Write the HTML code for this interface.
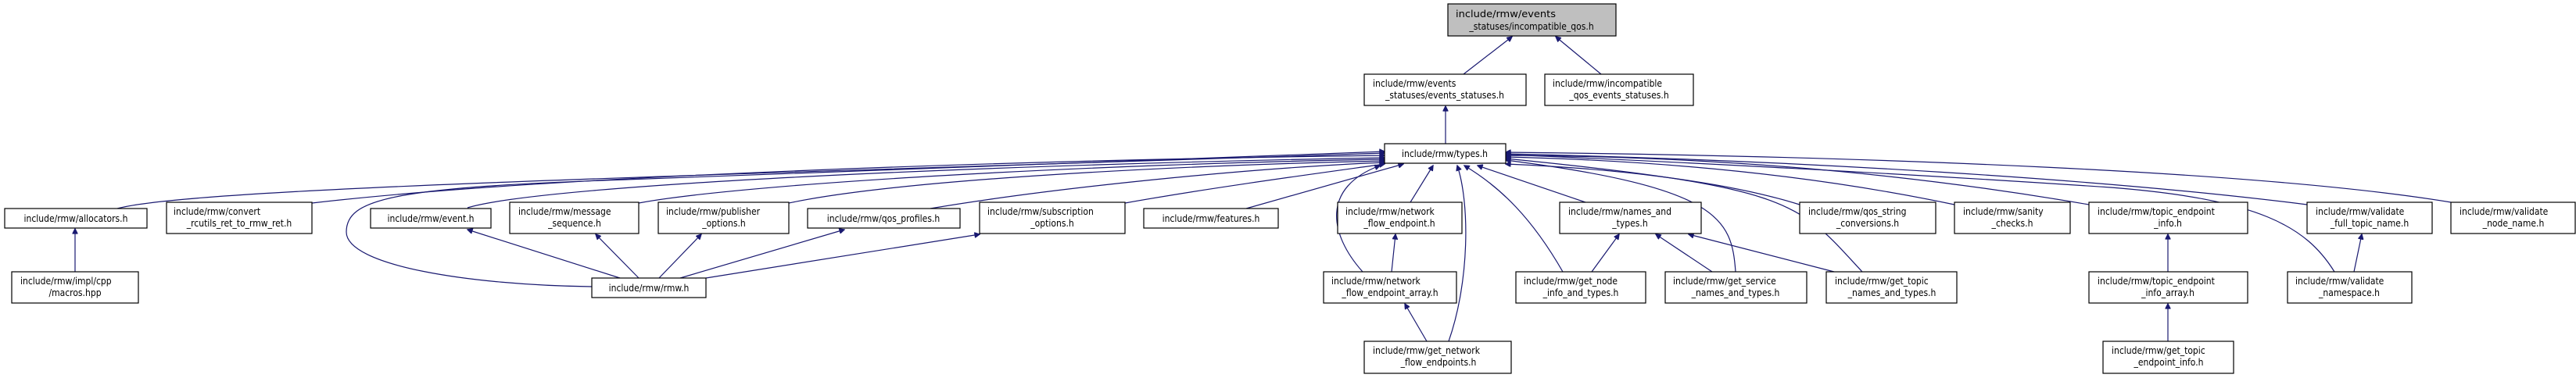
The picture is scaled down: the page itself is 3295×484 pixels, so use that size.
<!DOCTYPE html>
<html><head><meta charset="utf-8"><style>
html,body{margin:0;padding:0;background:#fff;}
svg{display:block;}
text{font-family:"DejaVu Sans Condensed","DejaVu Sans","Liberation Sans",sans-serif;font-size:12px;fill:#000;}
.e{fill:none;stroke:#191970;stroke-width:1.2;marker-end:url(#a);}
rect{fill:#fff;stroke:#000;stroke-width:1.2;}
</style></head><body>
<svg width="3295" height="484" viewBox="0 0 3295 484" xmlns="http://www.w3.org/2000/svg">
<defs><marker id="a" viewBox="0 0 10 10" refX="9" refY="5" markerWidth="8" markerHeight="7" orient="auto" markerUnits="userSpaceOnUse"><path d="M0,0 L10,5 L0,10 z" fill="#191970" stroke="#191970"/></marker></defs>

<!-- edges -->
<path class="e" d="M1872,95 L1934,47"/>
<path class="e" d="M2048,95 L1990,47"/>
<path class="e" d="M1849,184 L1849,136"/>
<!-- to types left -->
<path class="e" d="M150,267 C250,240 900,225 1771,196"/>
<path class="e" d="M399,260 C700,225 1300,205 1771,199"/>
<path class="e" d="M598,266 C700,235 1300,210 1771,202"/>
<path class="e" d="M817,260 C950,235 1400,210 1771,204"/>
<path class="e" d="M1009,260 C1150,230 1500,212 1771,206"/>
<path class="e" d="M1190,267 C1350,240 1600,215 1771,208"/>
<path class="e" d="M1439,260 C1550,240 1700,220 1771,210"/>
<path class="e" d="M757,367 C600,365 443,340 443,297 C443,255 500,240 800,230 C1200,215 1600,200 1771,194"/>
<path class="e" d="M1594,267 L1795,210"/>
<path class="e" d="M1804,259 L1833,212"/>
<path class="e" d="M1743,348 C1700,300 1690,240 1765,212"/>
<path class="e" d="M1853,437 C1880,360 1880,260 1864,212"/>
<path class="e" d="M1999,348 C1960,280 1920,240 1873,212"/>
<path class="e" d="M2028,259 L1890,212"/>
<!-- to types right -->
<path class="e" d="M2220,348 C2215,280 2200,240 1926,205"/>
<path class="e" d="M2382,348 C2300,260 2300,240 1926,203"/>
<path class="e" d="M2302,262 C2200,230 2050,215 1926,210"/>
<path class="e" d="M2500,262 C2300,220 2100,205 1926,201"/>
<path class="e" d="M2672,262 C2400,215 2150,200 1926,199"/>
<path class="e" d="M2951,262 C2700,230 2300,205 1926,197"/>
<path class="e" d="M3135,259 C2900,220 2400,200 1926,195"/>
<path class="e" d="M2986,348 C2950,290 2890,255 2700,240 C2400,220 2100,205 1926,198"/>
<!-- to rmw parents -->
<path class="e" d="M793,356 L598,294"/>
<path class="e" d="M817,356 L762,300"/>
<path class="e" d="M843,356 L897,300"/>
<path class="e" d="M870,356 L1080,294"/>
<path class="e" d="M903,356 L1253,300"/>
<!-- others -->
<path class="e" d="M96,348 L96,293"/>
<path class="e" d="M1780,348 L1785,300"/>
<path class="e" d="M1825,437 L1797,389"/>
<path class="e" d="M2036,348 L2071,300"/>
<path class="e" d="M2190,348 L2118,300"/>
<path class="e" d="M2346,348 L2160,300"/>
<path class="e" d="M2773,348 L2773,300"/>
<path class="e" d="M2773,437 L2773,389"/>
<path class="e" d="M3011,348 L3021,300"/>

<!-- nodes -->
<rect x="1852" y="5" width="215" height="41" style="fill:#bfbfbf"/>
<text x="1862" y="22" textLength="128" lengthAdjust="spacingAndGlyphs">include/rmw/events</text>
<text x="1959" y="38" text-anchor="middle">_statuses/incompatible_qos.h</text>

<rect x="1745" y="95" width="207" height="40"/>
<text x="1756" y="111">include/rmw/events</text>
<text x="1848" y="126" text-anchor="middle">_statuses/events_statuses.h</text>

<rect x="1976" y="95" width="190" height="40"/>
<text x="1986" y="111">include/rmw/incompatible</text>
<text x="2071" y="126" text-anchor="middle">_qos_events_statuses.h</text>

<rect x="1771" y="184" width="155" height="25"/>
<text x="1848" y="201" text-anchor="middle">include/rmw/types.h</text>

<rect x="6" y="267" width="182" height="25"/>
<text x="97" y="284" text-anchor="middle">include/rmw/allocators.h</text>

<rect x="213" y="259" width="186" height="40"/>
<text x="222" y="275">include/rmw/convert</text>
<text x="306" y="290" text-anchor="middle">_rcutils_ret_to_rmw_ret.h</text>

<rect x="474" y="267" width="154" height="25"/>
<text x="551" y="284" text-anchor="middle">include/rmw/event.h</text>

<rect x="652" y="259" width="165" height="40"/>
<text x="663" y="275">include/rmw/message</text>
<text x="735" y="290" text-anchor="middle">_sequence.h</text>

<rect x="842" y="259" width="167" height="40"/>
<text x="852" y="275">include/rmw/publisher</text>
<text x="926" y="290" text-anchor="middle">_options.h</text>

<rect x="1033" y="267" width="195" height="25"/>
<text x="1130" y="284" text-anchor="middle">include/rmw/qos_profiles.h</text>

<rect x="1253" y="259" width="186" height="40"/>
<text x="1263" y="275">include/rmw/subscription</text>
<text x="1346" y="290" text-anchor="middle">_options.h</text>

<rect x="1463" y="267" width="172" height="25"/>
<text x="1549" y="284" text-anchor="middle">include/rmw/features.h</text>

<rect x="1711" y="259" width="159" height="40"/>
<text x="1721" y="275">include/rmw/network</text>
<text x="1790" y="290" text-anchor="middle">_flow_endpoint.h</text>

<rect x="1995" y="259" width="181" height="40"/>
<text x="2006" y="275">include/rmw/names_and</text>
<text x="2085" y="290" text-anchor="middle">_types.h</text>

<rect x="2302" y="259" width="174" height="40"/>
<text x="2313" y="275">include/rmw/qos_string</text>
<text x="2389" y="290" text-anchor="middle">_conversions.h</text>

<rect x="2500" y="259" width="148" height="40"/>
<text x="2511" y="275">include/rmw/sanity</text>
<text x="2574" y="290" text-anchor="middle">_checks.h</text>

<rect x="2672" y="259" width="203" height="40"/>
<text x="2683" y="275">include/rmw/topic_endpoint</text>
<text x="2773" y="290" text-anchor="middle">_info.h</text>

<rect x="2951" y="259" width="160" height="40"/>
<text x="2962" y="275">include/rmw/validate</text>
<text x="3031" y="290" text-anchor="middle">_full_topic_name.h</text>

<rect x="3135" y="259" width="159" height="40"/>
<text x="3146" y="275">include/rmw/validate</text>
<text x="3215" y="290" text-anchor="middle">_node_name.h</text>

<rect x="15" y="348" width="162" height="40"/>
<text x="26" y="364">include/rmw/impl/cpp</text>
<text x="96" y="379" text-anchor="middle">/macros.hpp</text>

<rect x="757" y="356" width="146" height="25"/>
<text x="830" y="373" text-anchor="middle">include/rmw/rmw.h</text>

<rect x="1693" y="348" width="170" height="40"/>
<text x="1703" y="364">include/rmw/network</text>
<text x="1778" y="379" text-anchor="middle">_flow_endpoint_array.h</text>

<rect x="1939" y="348" width="166" height="40"/>
<text x="1949" y="364">include/rmw/get_node</text>
<text x="2022" y="379" text-anchor="middle">_info_and_types.h</text>

<rect x="2130" y="348" width="181" height="40"/>
<text x="2140" y="364">include/rmw/get_service</text>
<text x="2220" y="379" text-anchor="middle">_names_and_types.h</text>

<rect x="2336" y="348" width="167" height="40"/>
<text x="2347" y="364">include/rmw/get_topic</text>
<text x="2420" y="379" text-anchor="middle">_names_and_types.h</text>

<rect x="2672" y="348" width="203" height="40"/>
<text x="2683" y="364">include/rmw/topic_endpoint</text>
<text x="2773" y="379" text-anchor="middle">_info_array.h</text>

<rect x="2926" y="348" width="159" height="40"/>
<text x="2936" y="364">include/rmw/validate</text>
<text x="3005" y="379" text-anchor="middle">_namespace.h</text>

<rect x="1745" y="437" width="188" height="41"/>
<text x="1756" y="453">include/rmw/get_network</text>
<text x="1840" y="468" text-anchor="middle">_flow_endpoints.h</text>

<rect x="2690" y="437" width="167" height="41"/>
<text x="2701" y="453">include/rmw/get_topic</text>
<text x="2774" y="468" text-anchor="middle">_endpoint_info.h</text>
</svg>
</body></html>
